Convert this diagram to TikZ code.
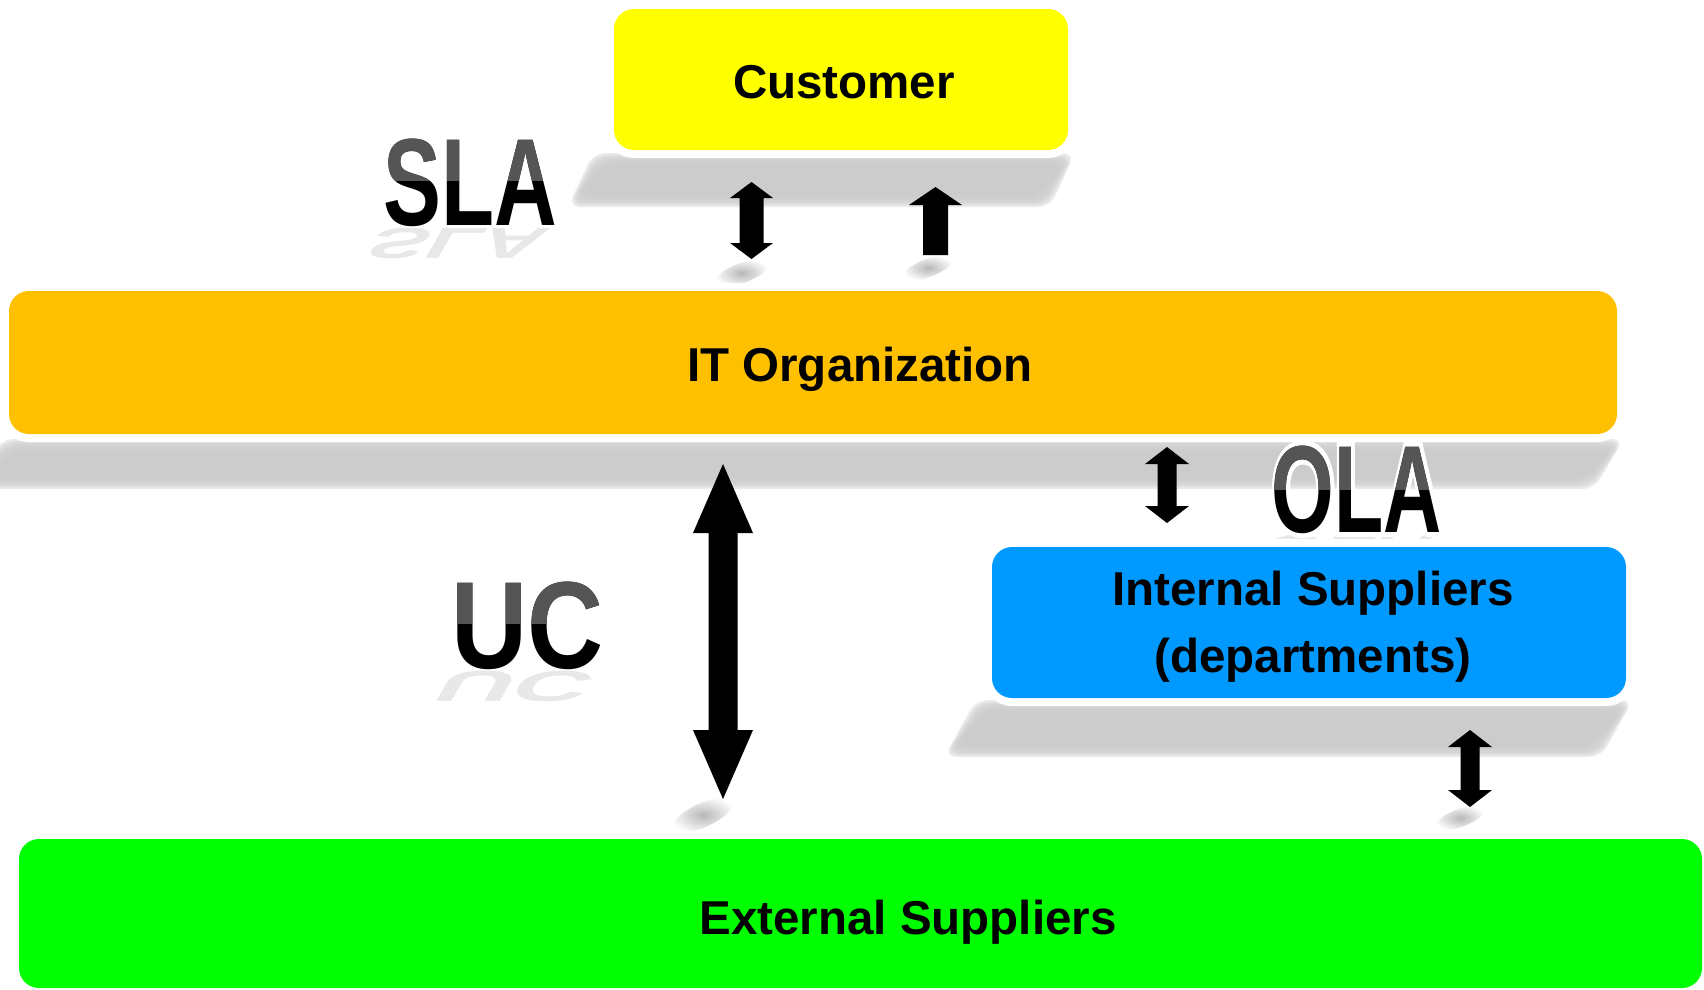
\documentclass[tikz,border=0pt]{standalone}
\usepackage{fontspec}
\setmainfont{Liberation Sans}
\newfontfamily\halofont[BoldFeatures={FakeBold=8}]{Liberation Sans}
\usetikzlibrary{calc,fadings}
\definecolor{custY}{HTML}{FFFF00}
\definecolor{itO}{HTML}{FFC000}
\definecolor{intB}{HTML}{0099FF}
\definecolor{extG}{HTML}{00FF00}
\definecolor{shadowG}{HTML}{CCCCCC}
\definecolor{labTop}{HTML}{555555}
\tikzfading[name=softblob, inner color=transparent!0, outer color=transparent!100]
\tikzset{
  box/.style={rounded corners=20pt, inner sep=0pt, preaction={draw=white, line width=16pt}},
  boxtext/.style={anchor=base, inner sep=0pt, font=\fontsize{47.5}{57}\selectfont\bfseries},
  biglab/.style={anchor=base, inner sep=0pt, font=\fontsize{124}{124}\selectfont\bfseries},
  shadowpiece/.style={fill=shadowG, opacity=0.4},
  arrshadow/.style={fill=black!28, path fading=softblob}
}
% soft parallelogram shadow: x1 x2 ytop ybot skew
\newcommand\softshadow[5]{%
  \foreach \d in {7,5,3,1,-1,-3,-5}{%
    \fill[shadowpiece, rounded corners=12pt]
      ({#1-(\d)},{#3-(\d)}) -- ({#2+(\d)},{#3-(\d)}) -- ({#2+(\d)-#5},{#4+(\d)}) -- ({#1-(\d)-#5},{#4+(\d)}) -- cycle;
  }}
% two-tone label: name, x, baseline, split y, xscale, text
\newcommand\twotone[6]{%
  \node[biglab, text=black] (#1) at (#2,#3) {\scalebox{#5}[1]{#6}};
  \fill[labTop, blend mode=lighten] ({#2-100},#4) rectangle ({#2+100},{#3-95});}
% faint reflection: name, x, baseline, xscale, text
\newcommand\reflectlab[5]{%
  \begin{scope}[shift={(#2,{#3+3})}, yscale=-0.35, xslant=-0.2]
    \node[biglab, transform shape, text=black, text opacity=0.09] (#1) at (0,0) {\scalebox{#4}[1]{#5}};
  \end{scope}}
% block arrows: top coord, bottom coord, head half width, shaft half width, head length
\newcommand\dblarr[5]{%
  \fill[black] let \p1=(#1), \p2=(#2) in
    (\x1,\y1) -- (\x1+#3,\y1-#5) -- (\x1+#4,\y1-#5) -- (\x1+#4,\y2+#5) -- (\x1+#3,\y2+#5)
    -- (\x2,\y2) -- (\x1-#3,\y2+#5) -- (\x1-#4,\y2+#5) -- (\x1-#4,\y1-#5) -- (\x1-#3,\y1-#5) -- cycle;}
\newcommand\uparr[5]{%
  \fill[black] let \p1=(#1), \p2=(#2) in
    (\x1,\y1) -- (\x1+#3,\y1-#5) -- (\x1+#4,\y1-#5) -- (\x1+#4,\y2) -- (\x1-#4,\y2)
    -- (\x1-#4,\y1-#5) -- (\x1-#3,\y1-#5) -- cycle;}
\begin{document}
\begin{tikzpicture}[x=1pt, y=-1pt]
\useasboundingbox (0,0) rectangle (1704,989);
\fill[white] (0,0) rectangle (1704,989);
\clip (0,0) rectangle (1704,989);

% shadows under boxes
\softshadow{600}{1068}{160}{200}{25}
\softshadow{9}{1617}{446}{482}{30}
\softshadow{983}{1626}{707}{750}{32}

% reflections of labels
\reflectlab{slaR}{466}{225}{0.70}{SLA}
\reflectlab{ucR}{524}{668}{0.85}{UC}
\reflectlab{olaR}{1353}{532}{0.65}{OLA}

% arrow shadows
\fill[arrshadow, rotate around={20:(742,273)}] (742,273) ellipse (28pt and 10pt);
\fill[arrshadow, rotate around={20:(928,268)}] (928,268) ellipse (26pt and 9pt);
\fill[arrshadow, rotate around={25:(703,815)}] (703,815) ellipse (34pt and 12pt);
\fill[arrshadow, rotate around={20:(1460,818)}] (1460,818) ellipse (26pt and 9pt);

% boxes
\node[box, fill=custY, minimum width=454pt, minimum height=141pt] (cust) at (841,79.5) {};
\node[box, fill=itO, minimum width=1608pt, minimum height=143pt] (itorg) at (813,362.5) {};
\node[box, fill=intB, minimum width=634pt, minimum height=151pt] (intsup) at (1309,622.5) {};
\node[box, fill=extG, minimum width=1683pt, minimum height=149pt] (extsup) at (860.5,913.5) {};

% box texts
\node[boxtext] (custT) at (844,98) {Customer};
\node[boxtext] (itT) at (860,381) {IT Organization};
\node[boxtext] (intT1) at (1313,605) {Internal Suppliers};
\node[boxtext] (intT2) at (1313,672) {(departments)};
\node[boxtext] (extT) at (908,934) {External Suppliers};

% labels
\twotone{sla}{470}{225}{180.5}{0.70}{SLA}
\twotone{uc}{528}{668}{624}{0.85}{UC}
\node[biglab, text=white, font=\fontsize{124}{124}\selectfont\halofont\bfseries] (olaHalo) at (1357,532) {\scalebox{0.65}[1]{OLA}};
\twotone{ola}{1357}{532}{490}{0.65}{OLA}

% arrows
\coordinate (a1t) at (751.5,182);
\coordinate (a1b) at (751.5,259);
\coordinate (a2t) at (935.5,187);
\coordinate (a2b) at (935.5,255);
\coordinate (a3t) at (723,464);
\coordinate (a3b) at (723,799);
\coordinate (a4t) at (1167,447);
\coordinate (a4b) at (1167,523);
\coordinate (a5t) at (1470,730);
\coordinate (a5b) at (1470,807);
\dblarr{a1t}{a1b}{21.5pt}{12pt}{16pt}
\uparr{a2t}{a2b}{26.5pt}{12.5pt}{18pt}
\dblarr{a3t}{a3b}{30pt}{14.5pt}{69pt}
\dblarr{a4t}{a4b}{22pt}{9.5pt}{17pt}
\dblarr{a5t}{a5b}{22pt}{9.5pt}{17pt}
\end{tikzpicture}
\end{document}
